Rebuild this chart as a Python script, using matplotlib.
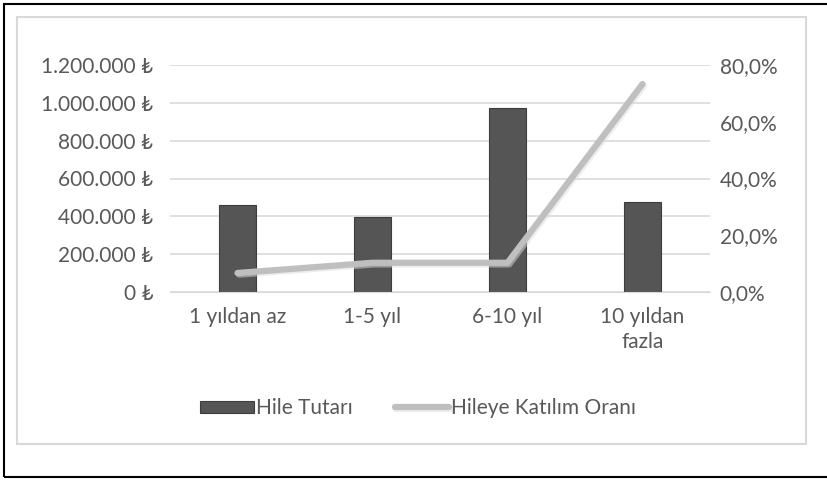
import matplotlib
matplotlib.use('Agg')
import matplotlib.pyplot as plt
from matplotlib.patches import Rectangle
from matplotlib.ticker import FuncFormatter, MultipleLocator
import matplotlib.patheffects as pe

plt.rcParams['font.family'] = ['Lato', 'DejaVu Sans']

categories = ['1 yıldan az', '1-5 yıl', '6-10 yıl', '10 yıldan\nfazla']
hile_tutari = [460000, 398000, 972000, 477000]
katilim_orani = [6.7, 10.3, 10.3, 73.3]

txt_color = '#595959'
grid_color = '#d9d9d9'
fs = 15

fig = plt.figure(figsize=(8.27, 4.8), dpi=100)
W, H = 827, 480

def fx(px):
    return px / W

def fy(py):
    return 1 - py / H

# outer black frame and inner chart border
fig.add_artist(Rectangle((fx(4), fy(477)), 1.2, fy(4) - fy(477), transform=fig.transFigure,
                         fill=False, edgecolor='black', lw=1.5))
fig.add_artist(Rectangle((fx(17), fy(444)), fx(806) - fx(17), fy(17) - fy(444),
                         transform=fig.transFigure, fill=False, edgecolor=grid_color, lw=1.5))

ax = fig.add_axes([fx(170), fy(292), fx(710) - fx(170), fy(65) - fy(292)])
ax2 = ax.twinx()

x = range(len(categories))
bars = ax.bar(x, hile_tutari, width=0.28, color='#555555', edgecolor='#3d3d3d', lw=0.8,
              label='Hile Tutarı', zorder=2)
ax.set_ylim(0, 1200000)
ax.set_xlim(-0.5, 3.5)
ax.yaxis.set_major_locator(MultipleLocator(200000))
ax.yaxis.set_major_formatter(FuncFormatter(lambda v, p: f"{int(v):,}".replace(',', '.') + ' ₺'))
ax.grid(axis='y', color=grid_color, lw=1.2, zorder=0)
ax.set_axisbelow(True)

line, = ax2.plot(list(x), katilim_orani, color='#bfbfbf', lw=4.5, solid_capstyle='round',
                 solid_joinstyle='round', label='Hileye Katılım Oranı', zorder=3,
                 path_effects=[pe.SimpleLineShadow(offset=(1.2, -1.2), shadow_color='#dddddd', alpha=0.5),
                               pe.Normal()])
ax2.set_ylim(0, 80)
ax2.yaxis.set_major_locator(MultipleLocator(20))
ax2.yaxis.set_major_formatter(FuncFormatter(lambda v, p: f"{v:.1f}".replace('.', ',') + '%'))

ax.set_zorder(1)
ax2.set_zorder(2)
ax2.patch.set_visible(False)

for a in (ax, ax2):
    for s in a.spines.values():
        s.set_visible(False)
    a.tick_params(length=0, labelsize=fs, labelcolor=txt_color)
ax.spines['bottom'].set_visible(True)
ax.spines['bottom'].set_color(grid_color)
ax.tick_params(axis='y', pad=12)
ax2.tick_params(axis='y', pad=7)
ax.set_xticks(list(x))
ax.set_xticklabels(categories, fontsize=fs, color=txt_color, linespacing=1.3)
ax.tick_params(axis='x', pad=11)

fig.legend([bars, line], ['Hile Tutarı', 'Hileye Katılım Oranı'], loc='center',
           bbox_to_anchor=(fx(418), fy(408)), ncol=2, frameon=False, fontsize=fs,
           labelcolor=txt_color, handlelength=2.6, handleheight=0.5, handletextpad=0.1,
           columnspacing=2.0)

fig.savefig('out.png', dpi=100, facecolor='white')
